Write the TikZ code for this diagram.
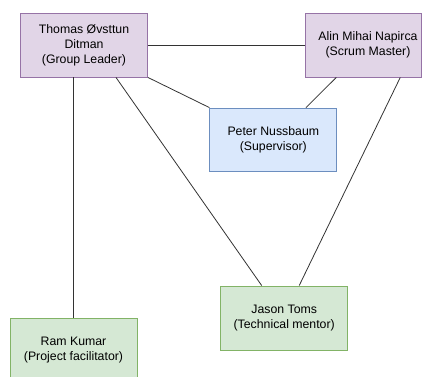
\documentclass[tikz,border=0pt]{standalone}
\usepackage{fontspec}
\setmainfont{Liberation Sans}
\usetikzlibrary{calc}
\definecolor{purpfill}{HTML}{E1D5E7}
\definecolor{purpline}{HTML}{9673A6}
\definecolor{bluefill}{HTML}{DAE8FC}
\definecolor{blueline}{HTML}{6C8EBF}
\definecolor{greenfill}{HTML}{D5E8D4}
\definecolor{greenline}{HTML}{82B366}
\tikzset{
  person/.style={draw, line width=0.9pt, minimum width=127pt, minimum height=64pt,
    inner sep=0pt, align=center, font=\fontsize{12.3}{15}\selectfont},
  lead/.style={person, fill=purpfill, draw=purpline},
  sup/.style={person, fill=bluefill, draw=blueline},
  mentor/.style={person, fill=greenfill, draw=greenline},
  plain/.style={align=center, inner sep=0pt, font=\fontsize{12.3}{15}\selectfont},
  link/.style={draw=black!80, line width=0.8pt}
}
\begin{document}
\begin{tikzpicture}[x=1pt, y=-1pt]
  \useasboundingbox (0,0) rectangle (422,376);
  \clip (0,0) rectangle (422,376);

  % people
  \node[lead] (thomas) at (84,45) {Thomas Øvsttun\\Ditman\\(Group Leader)};
  \node[lead, minimum width=116.5pt] (alin) at (363.25,45) {};
  \node[plain] (alintext) at (368,45) {Alin Mihai Napirca\\(Scrum Master)};
  \node[sup, minimum height=63pt] (peter) at (273.3,139.5) {Peter Nussbaum\\(Supervisor)};
  \node[mentor] (jason) at (284.2,318) {Jason Toms\\(Technical mentor)};
  \node[mentor] (ram) at (73.5,350.3) {Ram Kumar\\(Project facilitator)};

  % connections
  \draw[link] (thomas.east) -- (alin.west);
  \draw[link] (thomas.south east) -- (peter.north west);
  \draw[link] ([xshift=-27pt]alin.south) -- ([xshift=32.7pt]peter.north);
  \draw[link] ([xshift=37pt]alin.south) -- ([xshift=15pt]jason.north);
  \draw[link] ([xshift=32pt]thomas.south) -- ([xshift=-22.5pt]jason.north);
  \draw[link] (ram.north |- thomas.south) -- (ram.north);
\end{tikzpicture}
\end{document}
